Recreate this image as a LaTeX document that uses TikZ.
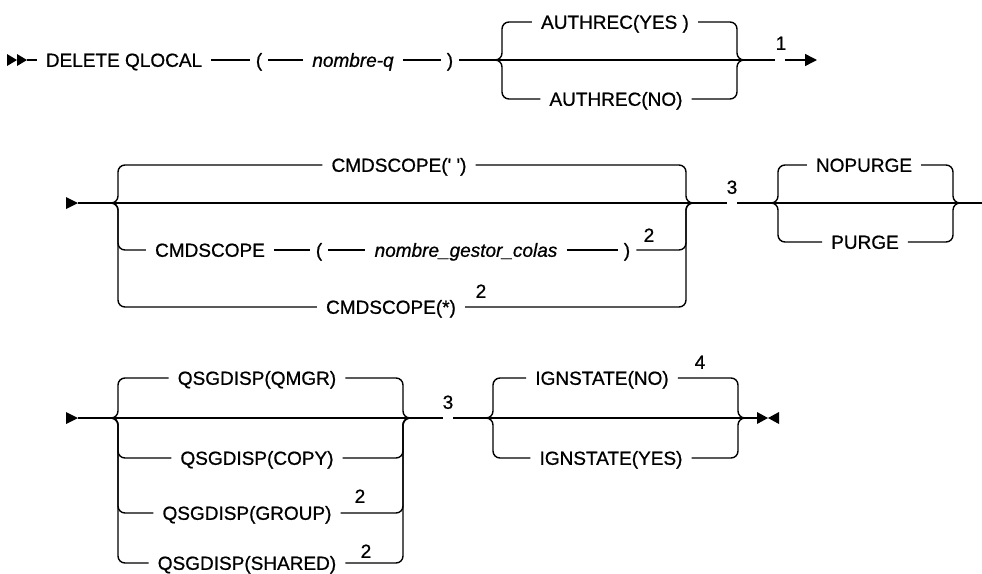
\documentclass[tikz,border=0pt]{standalone}
\usepackage{fontspec}
\setmainfont{Liberation Sans}[FakeBold=0.8]
\usetikzlibrary{arrows.meta}

\begin{document}
\begin{tikzpicture}[x=1pt, y=-1pt,
    rail/.style={line width=1.4pt, rounded corners=7pt},
    kw/.style={font=\fontsize{19}{22}\selectfont, text height=13.6pt, text depth=0pt, inner xsep=9pt, inner ysep=0pt},
    var/.style={kw, font=\fontsize{19}{22}\selectfont\itshape},
    par/.style={kw, inner xsep=6pt},
    note/.style={kw, inner sep=0pt}]

    \useasboundingbox (0,0) rectangle (982,573);

    % 1. DELETE QLOCAL ( nombre-q ) AUTHREC
    \fill (7,54) -- (17,60) -- (7,66) -- cycle;
    \fill (17,54) -- (27,60) -- (17,66) -- cycle;
    \coordinate (s1) at (27,60);
    \node[kw] (del) at (124,60) {DELETE QLOCAL};
    \node[par] (lp1) at (259,60) {(};
    \node[var] (nq) at (353,60) {nombre-q};
    \node[par] (rp1) at (450,60) {)};
    \coordinate (a1) at (494,60);
    \coordinate (a2) at (745,60);
    \node[kw] (ay) at (615,22) {AUTHREC(YES )};
    \node[kw] (an) at (616,99) {AUTHREC(NO)};
    \coordinate (g1a) at (775,60);
    \coordinate (g1b) at (785,60);
    \coordinate (e1) at (817,60);
    \node[note] (n1) at (781,43) {1};

    \draw[rail] (s1) -- (del.west);
    \draw[rail] (del.east) -- (lp1.west);
    \draw[rail] (lp1.east) -- (nq.west);
    \draw[rail] (nq.east) -- (rp1.west);
    \draw[rail] (rp1.east) -- (g1a);
    \draw[rail] (a1) -- ++(8,0) |- (ay.west);
    \draw[rail] (ay.east) -| ([xshift=-8pt]a2) -- (a2);
    \draw[rail] (a1) -- ++(8,0) |- (an.west);
    \draw[rail] (an.east) -| ([xshift=-8pt]a2) -- (a2);
    \draw[rail, -{Triangle[length=12pt,width=12pt]}] (g1b) -- (e1);

    % 2. CMDSCOPE y PURGE
    \fill (66,197) -- (78,203) -- (66,209) -- cycle;
    \coordinate (s2) at (78,203);
    \coordinate (b1) at (110,203);
    \coordinate (b2) at (694,203);
    \node[kw] (cq) at (399,165) {CMDSCOPE(\textquotesingle\ \textquotesingle)};
    \node[kw] (cs) at (210,250) {CMDSCOPE};
    \node[par] (lp2) at (319,250) {(};
    \node[var] (gestor) at (466,250) {nombre\_gestor\_colas};
    \node[par] (rp2) at (627,250) {)};
    \node[note] (n2a) at (649,235) {2};
    \node[kw] (ca) at (391,307) {CMDSCOPE(*)};
    \node[note] (n2b) at (481,291) {2};
    \coordinate (g2a) at (727,203);
    \coordinate (g2b) at (737,203);
    \node[note] (n3a) at (732,187) {3};
    \coordinate (p1) at (770,203);
    \coordinate (p2) at (961,203);
    \coordinate (e2) at (984,203);
    \node[kw] (np) at (864,165) {NOPURGE};
    \node[kw] (pu) at (865,242) {PURGE};

    \draw[rail] (s2) -- (g2a);
    \draw[rail] (b1) -- ++(8,0) |- (cq.west);
    \draw[rail] (cq.east) -| ([xshift=-8pt]b2) -- (b2);
    \draw[rail] (b1) -- ++(8,0) |- (cs.west);
    \draw[rail] (cs.east) -- (lp2.west);
    \draw[rail] (lp2.east) -- (gestor.west);
    \draw[rail] (gestor.east) -- (rp2.west);
    \draw[rail] (rp2.east) -| ([xshift=-8pt]b2) -- (b2);
    \draw[rail] (b1) -- ++(8,0) |- (ca.west);
    \draw[rail] (ca.east) -| ([xshift=-8pt]b2) -- (b2);
    \draw[rail] (g2b) -- (e2);
    \draw[rail] (p1) -- ++(8,0) |- (np.west);
    \draw[rail] (np.east) -| ([xshift=-8pt]p2) -- (p2);
    \draw[rail] (p1) -- ++(8,0) |- (pu.west);
    \draw[rail] (pu.east) -| ([xshift=-8pt]p2) -- (p2);

    % 3. QSGDISP e IGNSTATE
    \fill (66,412) -- (78,418) -- (66,424) -- cycle;
    \coordinate (s3) at (78,418);
    \coordinate (c1) at (110,418);
    \coordinate (c2) at (411,418);
    \node[kw] (qm) at (257,378) {QSGDISP(QMGR)};
    \node[kw] (qc) at (257,458) {QSGDISP(COPY)};
    \node[kw] (qg) at (247,513) {QSGDISP(GROUP)};
    \node[kw] (qs) at (247,563) {QSGDISP(SHARED)};
    \node[note] (n2c) at (360,496) {2};
    \node[note] (n2d) at (366,551) {2};
    \coordinate (g3a) at (443,418);
    \coordinate (g3b) at (453,418);
    \node[note] (n3b) at (448,402) {3};
    \coordinate (i1) at (485,418);
    \coordinate (i2) at (746,418);
    \coordinate (e3) at (757,418);
    \node[kw] (ino) at (602,378) {IGNSTATE(NO)};
    \node[kw] (iye) at (611,458) {IGNSTATE(YES)};
    \node[note] (n4) at (700,362) {4};

    \draw[rail] (s3) -- (g3a);
    \draw[rail] (c1) -- ++(8,0) |- (qm.west);
    \draw[rail] (qm.east) -| ([xshift=-8pt]c2) -- (c2);
    \draw[rail] (c1) -- ++(8,0) |- (qc.west);
    \draw[rail] (qc.east) -| ([xshift=-8pt]c2) -- (c2);
    \draw[rail] (c1) -- ++(8,0) |- (qg.west);
    \draw[rail] (qg.east) -| ([xshift=-8pt]c2) -- (c2);
    \draw[rail] (c1) -- ++(8,0) |- (qs.west);
    \draw[rail] (qs.east) -| ([xshift=-8pt]c2) -- (c2);
    \draw[rail] (g3b) -- (e3);
    \draw[rail] (i1) -- ++(8,0) |- (ino.west);
    \draw[rail] (ino.east) -| ([xshift=-8pt]i2) -- (i2);
    \draw[rail] (i1) -- ++(8,0) |- (iye.west);
    \draw[rail] (iye.east) -| ([xshift=-8pt]i2) -- (i2);
    \fill (757,412) -- (768,418) -- (757,424) -- cycle;
    \fill (779,412) -- (768,418) -- (779,424) -- cycle;

\end{tikzpicture}
\end{document}
